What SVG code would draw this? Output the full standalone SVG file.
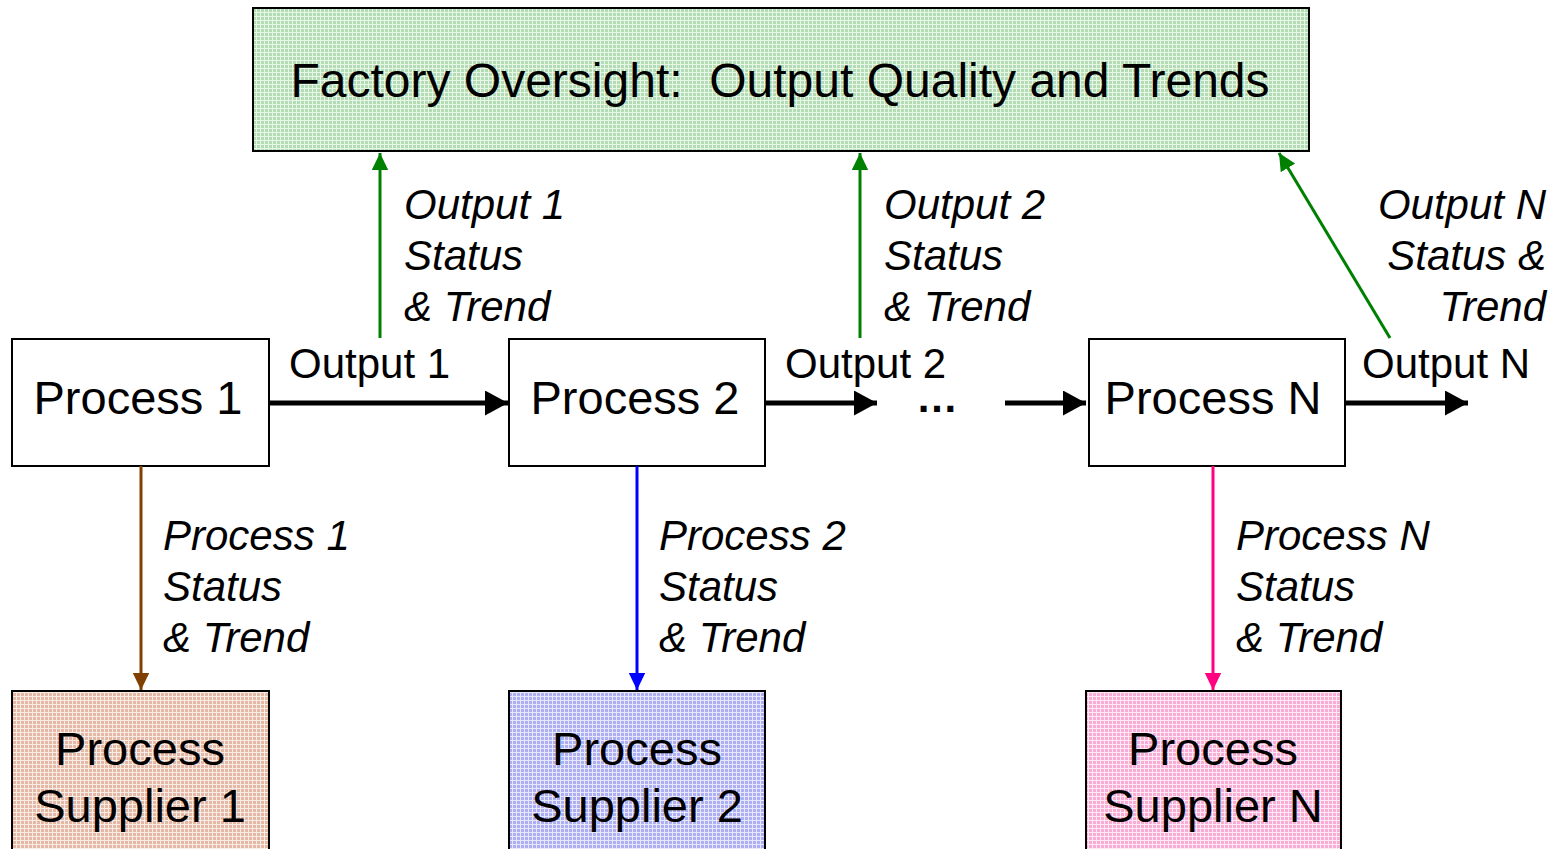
<svg xmlns="http://www.w3.org/2000/svg" width="1556" height="849" viewBox="0 0 1556 849">
  <style>
    .box { stroke: #000; stroke-width: 2; }
    .plain { fill: #fff; }
    .t { font-family: "Liberation Sans", Arial, sans-serif; fill: #000; }
    .big { font-size: 47px; }
    .lab { font-size: 42px; }
    .it { font-size: 42px; font-style: italic; }
    .flow { stroke: #000; stroke-width: 5; fill: none; }
    .thin { stroke-width: 3; fill: none; }
  </style>
  <defs>
    <!-- fine cross-hatch fills for the shaded boxes -->
    <pattern id="gGreen" width="4" height="4" patternUnits="userSpaceOnUse">
      <rect width="4" height="4" fill="#b4dcb4"/>
      <path d="M0 0.5H4M0.5 0V4" stroke="#e8f6e8" stroke-width="1"/>
    </pattern>
    <pattern id="gBrown" width="4" height="4" patternUnits="userSpaceOnUse">
      <rect width="4" height="4" fill="#e4b8a4"/>
      <path d="M0 0.5H4M0.5 0V4" stroke="#f8ece6" stroke-width="1"/>
    </pattern>
    <pattern id="gBlue" width="4" height="4" patternUnits="userSpaceOnUse">
      <rect width="4" height="4" fill="#aeaef2"/>
      <path d="M0 0.5H4M0.5 0V4" stroke="#e8e8fc" stroke-width="1"/>
    </pattern>
    <pattern id="gPink" width="4" height="4" patternUnits="userSpaceOnUse">
      <rect width="4" height="4" fill="#f8acd6"/>
      <path d="M0 0.5H4M0.5 0V4" stroke="#fde8f4" stroke-width="1"/>
    </pattern>
    <marker id="ahBlack" markerWidth="5" markerHeight="5" refX="4.6" refY="2.5" orient="auto" markerUnits="strokeWidth">
      <path d="M0 0L4.6 2.5L0 5Z" fill="#000"/>
    </marker>
    <marker id="ahGreen" markerWidth="6" markerHeight="6" refX="5.8" refY="2.8" orient="auto" markerUnits="strokeWidth">
      <path d="M0 0L5.8 2.8L0 5.6Z" fill="#008000"/>
    </marker>
    <marker id="ahBrown" markerWidth="6" markerHeight="6" refX="5.8" refY="2.8" orient="auto" markerUnits="strokeWidth">
      <path d="M0 0L5.8 2.8L0 5.6Z" fill="#804000"/>
    </marker>
    <marker id="ahBlue" markerWidth="6" markerHeight="6" refX="5.8" refY="2.8" orient="auto" markerUnits="strokeWidth">
      <path d="M0 0L5.8 2.8L0 5.6Z" fill="#0000ff"/>
    </marker>
    <marker id="ahPink" markerWidth="6" markerHeight="6" refX="5.8" refY="2.8" orient="auto" markerUnits="strokeWidth">
      <path d="M0 0L5.8 2.8L0 5.6Z" fill="#ff0080"/>
    </marker>
  </defs>

  <rect width="1556" height="849" fill="#fff"/>

  <g id="oversight">
    <rect class="box" x="253" y="8" width="1056" height="143" fill="url(#gGreen)"/>
    <text class="t" x="780" y="97" font-size="48" text-anchor="middle">Factory Oversight:&#160; Output Quality and Trends</text>
  </g>

  <g id="process1">
    <rect class="box plain" x="12" y="339" width="257" height="127"/>
    <text class="t big" x="138" y="414" text-anchor="middle">Process 1</text>
  </g>
  <g id="process2">
    <rect class="box plain" x="509" y="339" width="256" height="127"/>
    <text class="t big" x="635" y="414" text-anchor="middle">Process 2</text>
  </g>
  <g id="processN">
    <rect class="box plain" x="1089" y="339" width="256" height="127"/>
    <text class="t big" x="1213" y="414" text-anchor="middle">Process N</text>
  </g>

  <g id="supplier1">
    <rect class="box" x="12" y="691" width="257" height="170" fill="url(#gBrown)"/>
    <text class="t big" x="140" y="765" text-anchor="middle">Process</text>
    <text class="t big" x="140" y="822" text-anchor="middle">Supplier 1</text>
  </g>
  <g id="supplier2">
    <rect class="box" x="509" y="691" width="256" height="170" fill="url(#gBlue)"/>
    <text class="t big" x="637" y="765" text-anchor="middle">Process</text>
    <text class="t big" x="637" y="822" text-anchor="middle">Supplier 2</text>
  </g>
  <g id="supplierN">
    <rect class="box" x="1086" y="691" width="255" height="170" fill="url(#gPink)"/>
    <text class="t big" x="1213" y="765" text-anchor="middle">Process</text>
    <text class="t big" x="1213" y="822" text-anchor="middle">Supplier N</text>
  </g>

  <g id="connectors">
    <!-- main flow -->
    <line class="flow" x1="269" y1="403" x2="508" y2="403" marker-end="url(#ahBlack)"/>
    <line class="flow" x1="765" y1="403" x2="877" y2="403" marker-end="url(#ahBlack)"/>
    <line class="flow" x1="1005" y1="403" x2="1086" y2="403" marker-end="url(#ahBlack)"/>
    <line class="flow" x1="1345" y1="403" x2="1468" y2="403" marker-end="url(#ahBlack)"/>
    <!-- outputs up to oversight -->
    <line class="thin" stroke="#008000" x1="380" y1="338" x2="380" y2="153" marker-end="url(#ahGreen)"/>
    <line class="thin" stroke="#008000" x1="860" y1="338" x2="860" y2="153" marker-end="url(#ahGreen)"/>
    <line class="thin" stroke="#008000" x1="1390" y1="338" x2="1279" y2="153" marker-end="url(#ahGreen)"/>
    <!-- process status down to suppliers -->
    <line class="thin" stroke="#804000" x1="141" y1="466" x2="141" y2="690" marker-end="url(#ahBrown)"/>
    <line class="thin" stroke="#0000ff" x1="637" y1="466" x2="637" y2="690" marker-end="url(#ahBlue)"/>
    <line class="thin" stroke="#ff0080" x1="1213" y1="466" x2="1213" y2="690" marker-end="url(#ahPink)"/>
  </g>

  <g id="labels">
    <text class="t lab" x="289" y="378">Output 1</text>
    <text class="t lab" x="785" y="378">Output 2</text>
    <text class="t lab" x="1362" y="378">Output N</text>
    <text class="t" x="937" y="412" font-size="42" font-weight="bold" text-anchor="middle">…</text>

    <text class="t it" x="404" y="219">Output 1</text>
    <text class="t it" x="404" y="270">Status</text>
    <text class="t it" x="404" y="321">&amp; Trend</text>

    <text class="t it" x="884" y="219">Output 2</text>
    <text class="t it" x="884" y="270">Status</text>
    <text class="t it" x="884" y="321">&amp; Trend</text>

    <text class="t it" x="1546" y="219" text-anchor="end">Output N</text>
    <text class="t it" x="1546" y="270" text-anchor="end">Status &amp;</text>
    <text class="t it" x="1546" y="321" text-anchor="end">Trend</text>

    <text class="t it" x="163" y="550">Process 1</text>
    <text class="t it" x="163" y="601">Status</text>
    <text class="t it" x="163" y="652">&amp; Trend</text>

    <text class="t it" x="659" y="550">Process 2</text>
    <text class="t it" x="659" y="601">Status</text>
    <text class="t it" x="659" y="652">&amp; Trend</text>

    <text class="t it" x="1236" y="550">Process N</text>
    <text class="t it" x="1236" y="601">Status</text>
    <text class="t it" x="1236" y="652">&amp; Trend</text>
  </g>
</svg>
